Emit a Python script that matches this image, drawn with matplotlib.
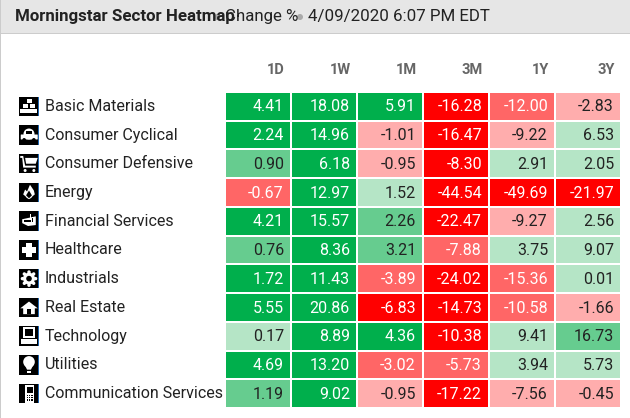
import matplotlib
matplotlib.use("Agg")
from matplotlib import pyplot as plt
from matplotlib.colors import ListedColormap, BoundaryNorm
from matplotlib.patches import Rectangle, Circle, Polygon, FancyBboxPatch
import numpy as np

plt.rcParams['font.family'] = ['Liberation Sans Narrow', 'Roboto']

sectors = ['Basic Materials', 'Consumer Cyclical', 'Consumer Defensive', 'Energy',
           'Financial Services', 'Healthcare', 'Industrials', 'Real Estate',
           'Technology', 'Utilities', 'Communication Services']
periods = ['1D', '1W', '1M', '3M', '1Y', '3Y']

change_1d = [4.41, 2.24, 0.90, -0.67, 4.21, 0.76, 1.72, 5.55, 0.17, 4.69, 1.19]
change_1w = [18.08, 14.96, 6.18, 12.97, 15.57, 8.36, 11.43, 20.86, 8.89, 13.20, 9.02]
change_1m = [5.91, -1.01, -0.95, 1.52, 2.26, 3.21, -3.89, -6.83, 4.36, -3.02, -0.95]
change_3m = [-16.28, -16.47, -8.30, -44.54, -22.47, -7.88, -24.02, -14.73, -10.38, -5.73, -17.22]
change_1y = [-12.00, -9.22, 2.91, -49.69, -9.27, 3.75, -15.36, -10.58, 9.41, 3.94, -7.56]
change_3y = [-2.83, 6.53, 2.05, -21.97, 2.56, 9.07, 0.01, -1.66, 16.73, 5.73, -0.45]

# colour bucket of each cell, -3 (deep red) to 3 (deep green)
bucket_1d = [3, 3, 2, -2, 3, 2, 3, 3, 1, 3, 2]
bucket_1w = [3, 3, 3, 3, 3, 3, 3, 3, 3, 3, 3]
bucket_1m = [3, -1, -1, 1, 2, 2, -2, -3, 3, -2, -1]
bucket_3m = [-3, -3, -3, -3, -3, -2, -3, -3, -3, -2, -3]
bucket_1y = [-2, -1, 1, -3, -1, 1, -2, -2, 1, 1, -1]
bucket_3y = [-1, 1, 1, -3, 1, 1, 1, -1, 2, 1, -1]

bucket_colors = ['#FF0000', '#FF6666', '#FFADAD', '#B5E5C6', '#66CC8F', '#00AF4C']
bucket_levels = [-3, -2, -1, 1, 2, 3]

values = np.array([change_1d, change_1w, change_1m, change_3m, change_1y, change_3y]).T
buckets = np.array([bucket_1d, bucket_1w, bucket_1m, bucket_3m, bucket_1y, bucket_3y]).T

W, H = 630, 418
fig = plt.figure(figsize=(W / 100, H / 100), dpi=100, facecolor='white')

# page furniture in pixel coordinates
bg = fig.add_axes([0, 0, 1, 1])
bg.set_xlim(0, W)
bg.set_ylim(H, 0)
bg.axis('off')
bg.add_patch(Rectangle((0, 0), W, 33, color='#E6E6E6', lw=0))
bg.add_patch(Rectangle((0, 33), W, 1.2, color='#CCCCCC', lw=0))
bg.add_patch(Rectangle((0, 0), 1.4, H, color='#CCCCCC', lw=0))

dark = '#222222'
bg.text(15, 17, 'Morningstar Sector Heatmap', fontsize=12.2, fontweight='bold', color=dark, va='center')
bg.add_patch(Circle((217, 17), 3, color='#AAAAAA', lw=0))
bg.text(225, 17, 'Change %', fontsize=12.2, color=dark, va='center')
bg.add_patch(Circle((300, 17), 3, color='#AAAAAA', lw=0))
bg.text(308, 17, '4/09/2020 6:07 PM EDT', fontsize=12.2, color=dark, va='center')


def icon_basic(a, p):
    for x, y in [(7.5, 3), (3.5, 8), (11, 8), (1, 13), (7, 13), (13, 13)]:
        a.add_patch(Rectangle(p(x, y), 5.5, 4, color='white', lw=0))


def icon_car(a, p):
    a.add_patch(FancyBboxPatch(p(2, 10), 16, 4, boxstyle='round,pad=0.5', color='white', lw=0))
    a.add_patch(Circle(p(10, 9), 5.5, color='white', lw=0))
    a.add_patch(Rectangle(p(7, 6), 6, 3, color='black', lw=0))
    a.add_patch(Circle(p(5, 15), 1.8, color='black', lw=0))
    a.add_patch(Circle(p(15, 15), 1.8, color='black', lw=0))


def icon_cart(a, p):
    a.add_patch(Polygon([p(1, 2), p(4, 2), p(6, 12), p(17, 12), p(17, 14), p(4, 14), p(3, 4), p(1, 4)], color='white', lw=0))
    a.add_patch(Polygon([p(6, 4), p(19, 4), p(17, 10), p(7, 10)], color='white', lw=0))
    a.add_patch(Circle(p(6, 17), 1.5, color='white', lw=0))
    a.add_patch(Circle(p(15, 17), 1.5, color='white', lw=0))


def icon_flame(a, p):
    a.add_patch(Polygon([p(11, 2), p(15, 8), p(16, 12), p(10, 17), p(4, 12), p(6, 7), p(8, 9)], color='white', lw=0))
    a.add_patch(Circle(p(10, 13), 3.3, color='white', lw=0))
    a.add_patch(Polygon([p(10, 8), p(13, 13), p(10, 16), p(7, 13)], color='black', lw=0))


def icon_money(a, p):
    a.add_patch(Polygon([p(3, 8), p(17, 5), p(17, 14), p(9, 15), p(3, 12)], color='white', lw=0))
    a.add_patch(Rectangle(p(11, 3), 1.5, 6, color='white', lw=0))
    a.add_patch(Rectangle(p(5, 9), 7, 2, color='black', lw=0))
    a.add_patch(Rectangle(p(13, 7), 1.4, 4, color='black', lw=0))


def icon_plus(a, p):
    a.add_patch(Rectangle(p(7, 3), 6, 14, color='white', lw=0))
    a.add_patch(Rectangle(p(3, 7), 14, 6, color='white', lw=0))


def icon_gear(a, p):
    for deg in range(0, 360, 45):
        t = np.radians(deg)
        a.add_patch(Circle(p(10 + 6.8 * np.cos(t), 10 + 6.8 * np.sin(t)), 1.7, color='white', lw=0))
    a.add_patch(Circle(p(10, 10), 6, color='white', lw=0))
    a.add_patch(Circle(p(10, 10), 2.8, color='black', lw=0))


def icon_house(a, p):
    a.add_patch(Polygon([p(10, 4), p(19, 11), p(16, 11), p(16, 17), p(4, 17), p(4, 11), p(1, 11)], color='white', lw=0))
    a.add_patch(Rectangle(p(8, 12), 4, 5, color='black', lw=0))


def icon_computer(a, p):
    a.add_patch(Rectangle(p(4, 1), 12, 11, color='white', lw=0))
    a.add_patch(Rectangle(p(6, 3), 8, 7, color='black', lw=0))
    a.add_patch(Rectangle(p(2, 13), 16, 5, color='white', lw=0))


def icon_bulb(a, p):
    a.add_patch(Circle(p(10, 7), 5.8, color='white', lw=0))
    a.add_patch(Polygon([p(5, 9), p(15, 9), p(12, 15), p(8, 15)], color='white', lw=0))
    a.add_patch(Rectangle(p(8, 16), 4, 2, color='white', lw=0))


def icon_phone(a, p):
    a.add_patch(Rectangle(p(6, 1), 9, 18, color='white', lw=0))
    a.add_patch(Rectangle(p(7.5, 3), 6, 6, color='black', lw=0))
    for y in (11, 13.5, 16):
        for x in (7.5, 10, 12.5):
            a.add_patch(Rectangle(p(x, y), 1.3, 1.3, color='black', lw=0))


icons = [icon_basic, icon_car, icon_cart, icon_flame, icon_money, icon_plus,
         icon_gear, icon_house, icon_computer, icon_bulb, icon_phone]

left, right, top, bottom = 225, 621, 92, 408
row_h = (bottom - top) / len(sectors)
col_w = (right - left) / len(periods)

for i, name in enumerate(sectors):
    yc = top + (i + 0.5) * row_h
    bg.text(45, yc, name, fontsize=11.5, color=dark, va='center')
    ix, iy = 19.3, yc - 9.8
    bg.add_patch(Rectangle((ix, iy), 19.4, 19.4, color='black', lw=0))
    bg.add_patch(Rectangle((ix + 18.6, iy), 1, 19.4, color='#1F66B0', lw=0))
    icons[i](bg, lambda x, y, ix=ix, iy=iy: (ix + x * 0.97, iy + y * 0.97))

# the heatmap itself
ax = fig.add_axes([left / W, 1 - bottom / H, (right - left) / W, (bottom - top) / H])
cmap = ListedColormap(bucket_colors)
norm = BoundaryNorm([-3.5, -2.5, -1.5, 0, 1.5, 2.5, 3.5], cmap.N)
ax.pcolormesh(buckets, cmap=cmap, norm=norm, edgecolors='white', linewidth=1.1)
ax.set_xlim(0, len(periods))
ax.set_ylim(len(sectors), 0)
ax.axis('off')

pad = 7 / col_w
for r in range(values.shape[0]):
    for c in range(values.shape[1]):
        b = buckets[r, c]
        ax.text(c + 1 - pad, r + 0.52, f'{values[r, c]:.2f}', ha='right', va='center', fontsize=11.5,
                color='white' if b in (3, -2, -3) else dark)

for c, p in enumerate(periods):
    bg.text(left + (c + 1) * col_w - 6, 70, p, ha='right', va='center', fontsize=10.5,
            fontweight='bold', color='#666666')

fig.savefig('out.png', dpi=100)
